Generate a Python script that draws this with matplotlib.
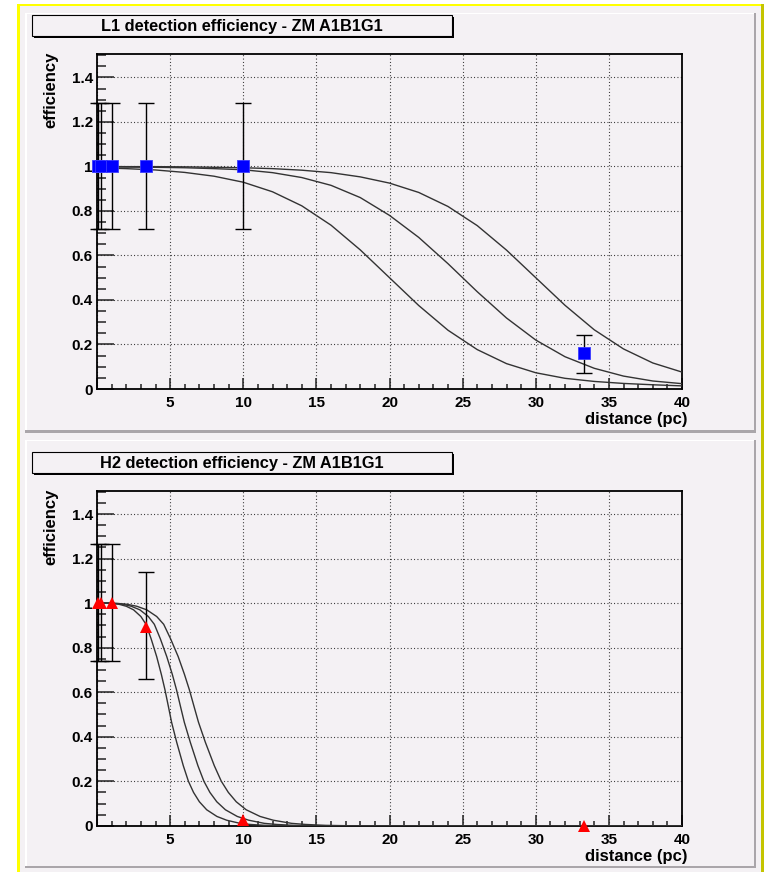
import matplotlib.pyplot as plt
from matplotlib.patches import Rectangle
from matplotlib.ticker import MultipleLocator

W, H = 764, 872
BG = "#f4f1f4"

# L1 measured efficiency
l1_dist = [0.05, 0.3, 1.0, 3.33, 10.0, 33.3]
l1_eff = [1.0, 1.0, 1.0, 1.0, 1.0, 0.163]
l1_err_lo = [0.283, 0.283, 0.283, 0.283, 0.283, 0.093]
l1_err_hi = [0.283, 0.283, 0.283, 0.283, 0.283, 0.080]

# L1 fitted curves
l1_fit_x = [0, 2, 4, 6, 8, 10, 12, 14, 16, 18, 20, 22, 24, 26, 28, 30, 32, 34, 36, 38, 40]
l1_fit_a = [0.994, 0.990, 0.984, 0.973, 0.956, 0.929, 0.886, 0.823, 0.736, 0.625, 0.500,
            0.375, 0.264, 0.177, 0.114, 0.073, 0.048, 0.034, 0.025, 0.019, 0.014]
l1_fit_b = [0.998, 0.997, 0.996, 0.994, 0.990, 0.985, 0.972, 0.950, 0.915, 0.860, 0.780,
            0.681, 0.563, 0.437, 0.319, 0.220, 0.145, 0.093, 0.058, 0.036, 0.024]
l1_fit_c = [1.000, 0.999, 0.999, 0.998, 0.996, 0.994, 0.990, 0.983, 0.972, 0.953, 0.925,
            0.883, 0.820, 0.734, 0.624, 0.500, 0.376, 0.266, 0.180, 0.117, 0.076]

# H2 measured efficiency
h2_dist = [0.05, 0.3, 1.0, 3.33, 10.0, 33.3]
h2_eff = [1.0, 1.0, 1.0, 0.895, 0.027, 0.0]
h2_err_lo = [0.262, 0.262, 0.262, 0.237, 0.0, 0.0]
h2_err_hi = [0.266, 0.266, 0.266, 0.247, 0.0, 0.0]

# H2 fitted curves (same efficiency levels, three distance scales)
h2_fit_y = [1.0, 0.999, 0.995, 0.986, 0.970, 0.940, 0.905, 0.840, 0.760, 0.680, 0.610,
            0.530, 0.465, 0.375, 0.270, 0.200, 0.150, 0.108, 0.072, 0.042, 0.025, 0.011,
            0.006, 0.002, 0.0005, 0.0, 0.0]
h2_fit_a_x = [0, 1.0, 1.5, 2.0, 2.5, 3.0, 3.35, 3.7, 4.08, 4.4, 4.65, 4.9, 5.1, 5.45, 5.9,
              6.25, 6.6, 7.0, 7.5, 8.2, 8.87, 9.78, 10.5, 11.5, 12.5, 14.0, 40.0]
h2_fit_b_x = [0, 1.17, 1.76, 2.34, 2.93, 3.51, 3.92, 4.33, 4.77, 5.15, 5.44, 5.73, 5.97, 6.38,
              6.90, 7.31, 7.72, 8.19, 8.78, 9.59, 10.38, 11.44, 12.29, 13.46, 14.63, 16.4, 40.0]
h2_fit_c_x = [0, 1.36, 2.04, 2.72, 3.40, 4.08, 4.56, 5.03, 5.55, 5.98, 6.32, 6.66, 6.94, 7.41,
              8.02, 8.50, 8.98, 9.52, 10.2, 11.15, 12.06, 13.3, 14.28, 15.64, 17.0, 19.0, 40.0]

y_ticks = [0, 0.2, 0.4, 0.6, 0.8, 1.0, 1.2, 1.4]
y_labels = ["0", "0.2", "0.4", "0.6", "0.8", "1", "1.2", "1.4"]
x_ticks = [0, 5, 10, 15, 20, 25, 30, 35, 40]
x_labels = ["", "5", "10", "15", "20", "25", "30", "35", "40"]

plt.rcParams["font.family"] = ["Liberation Sans", "DejaVu Sans"]
plt.rcParams["font.weight"] = "bold"

fig = plt.figure(figsize=(W / 100, H / 100), dpi=100)
fig.patch.set_facecolor("white")


def rect(x0, y0, x1, y1, **kw):
    # pixel box (y from top) -> figure fraction
    r = Rectangle((x0 / W, 1 - y1 / H), (x1 - x0) / W, (y1 - y0) / H,
                  transform=fig.transFigure, **kw)
    fig.add_artist(r)
    return r


# canvas with yellow bevel
rect(17, 4, 764, 872, facecolor=BG, edgecolor="none", zorder=-10)
rect(17, 4, 19.5, 872, facecolor="#ffff00", edgecolor="none", zorder=-9)
rect(17, 4, 764, 6.5, facecolor="#ffff00", edgecolor="none", zorder=-9)
rect(761, 4, 764, 872, facecolor="#c4c400", edgecolor="none", zorder=-9)

# two pads with bevel
for (py0, py1) in [(13, 433), (440, 868)]:
    rect(25, py0, 756, py1, facecolor=BG, edgecolor="none", zorder=-8)
    rect(25, py0, 756, py0 + 1.5, facecolor="white", edgecolor="none", zorder=-7)
    rect(25, py0, 26.5, py1, facecolor="white", edgecolor="none", zorder=-7)
    rect(753.5, py0, 756, py1, facecolor="#aaa6aa", edgecolor="none", zorder=-7)
    rect(25, py1 - 2.5, 756, py1, facecolor="#aaa6aa", edgecolor="none", zorder=-7)

# title boxes
titles = [("L1 detection efficiency - ZM A1B1G1", 15, 36, 30.7),
          ("H2 detection efficiency - ZM A1B1G1", 452, 473, 467.7)]
for text, ty0, ty1, base in titles:
    rect(34, ty0 + 2, 454, ty1 + 2, facecolor="black", edgecolor="none", zorder=1)
    rect(32, ty0, 452, ty1, facecolor=BG, edgecolor="black", linewidth=0.8, zorder=2)
    fig.text(242 / W, 1 - base / H, text, ha="center", va="baseline",
             fontsize=11.8, weight="bold", zorder=3)

ax1 = fig.add_axes([97 / W, 1 - 389 / H, 585 / W, 335 / H])
ax2 = fig.add_axes([97 / W, 1 - 825.8 / H, 585 / W, 335.1 / H])

for ax in (ax1, ax2):
    ax.set_facecolor(BG)
    ax.set_xlim(0, 40)
    ax.set_ylim(0, 1.505)
    ax.set_xticks(x_ticks)
    ax.set_xticklabels(x_labels)
    ax.set_yticks(y_ticks)
    ax.set_yticklabels(y_labels)
    ax.xaxis.set_minor_locator(MultipleLocator(1))
    ax.yaxis.set_minor_locator(MultipleLocator(0.05))
    ax.tick_params(axis="both", which="both", direction="in", top=False, right=False,
                   width=1.1, color="#222222")
    ax.tick_params(axis="x", which="major", length=7.7, pad=5, labelsize=11)
    ax.tick_params(axis="x", which="minor", length=3.6)
    ax.tick_params(axis="y", which="major", length=12.5, pad=3, labelsize=11)
    ax.tick_params(axis="y", which="minor", length=6.5)
    for lab in ax.get_xticklabels() + ax.get_yticklabels():
        lab.set_fontweight("bold")
    ax.grid(True, which="major", color="#1a1a1a", linewidth=0.8, linestyle=(0, (0.8, 2.2)))
    ax.set_axisbelow(True)
    for s in ax.spines.values():
        s.set_linewidth(1.3)
        s.set_color("black")
    ax.text(-0.0795, 1.006, "efficiency", rotation=90, ha="center", va="top",
            transform=ax.transAxes, fontsize=12, weight="bold")
    ax.text(1.009, -0.068, "distance (pc)", ha="right", va="top",
            transform=ax.transAxes, fontsize=12, weight="bold")

# L1 panel
for yy in (l1_fit_a, l1_fit_b, l1_fit_c):
    ax1.plot(l1_fit_x, yy, color="#333333", linewidth=1.0, zorder=3)
ax1.errorbar(l1_dist, l1_eff, yerr=[l1_err_lo, l1_err_hi], fmt="none", ecolor="black",
             elinewidth=1.0, capsize=5.8, capthick=1.0, zorder=4, clip_on=False)
ax1.plot(l1_dist, l1_eff, "s", color="#0000ff", markersize=8.0, markeredgecolor="#3a3aff",
         markeredgewidth=0.6, zorder=5, clip_on=False)

# H2 panel
for xx in (h2_fit_a_x, h2_fit_b_x, h2_fit_c_x):
    ax2.plot(xx, h2_fit_y, color="#333333", linewidth=1.0, zorder=3)
ax2.errorbar(h2_dist[:4], h2_eff[:4], yerr=[h2_err_lo[:4], h2_err_hi[:4]], fmt="none",
             ecolor="black", elinewidth=1.0, capsize=5.8, capthick=1.0, zorder=4, clip_on=False)
ax2.plot(h2_dist, h2_eff, "^", color="#ff0000", markersize=8.0, markeredgewidth=0,
         zorder=5, clip_on=False)

fig.savefig("out.png", dpi=100, facecolor=fig.get_facecolor())
